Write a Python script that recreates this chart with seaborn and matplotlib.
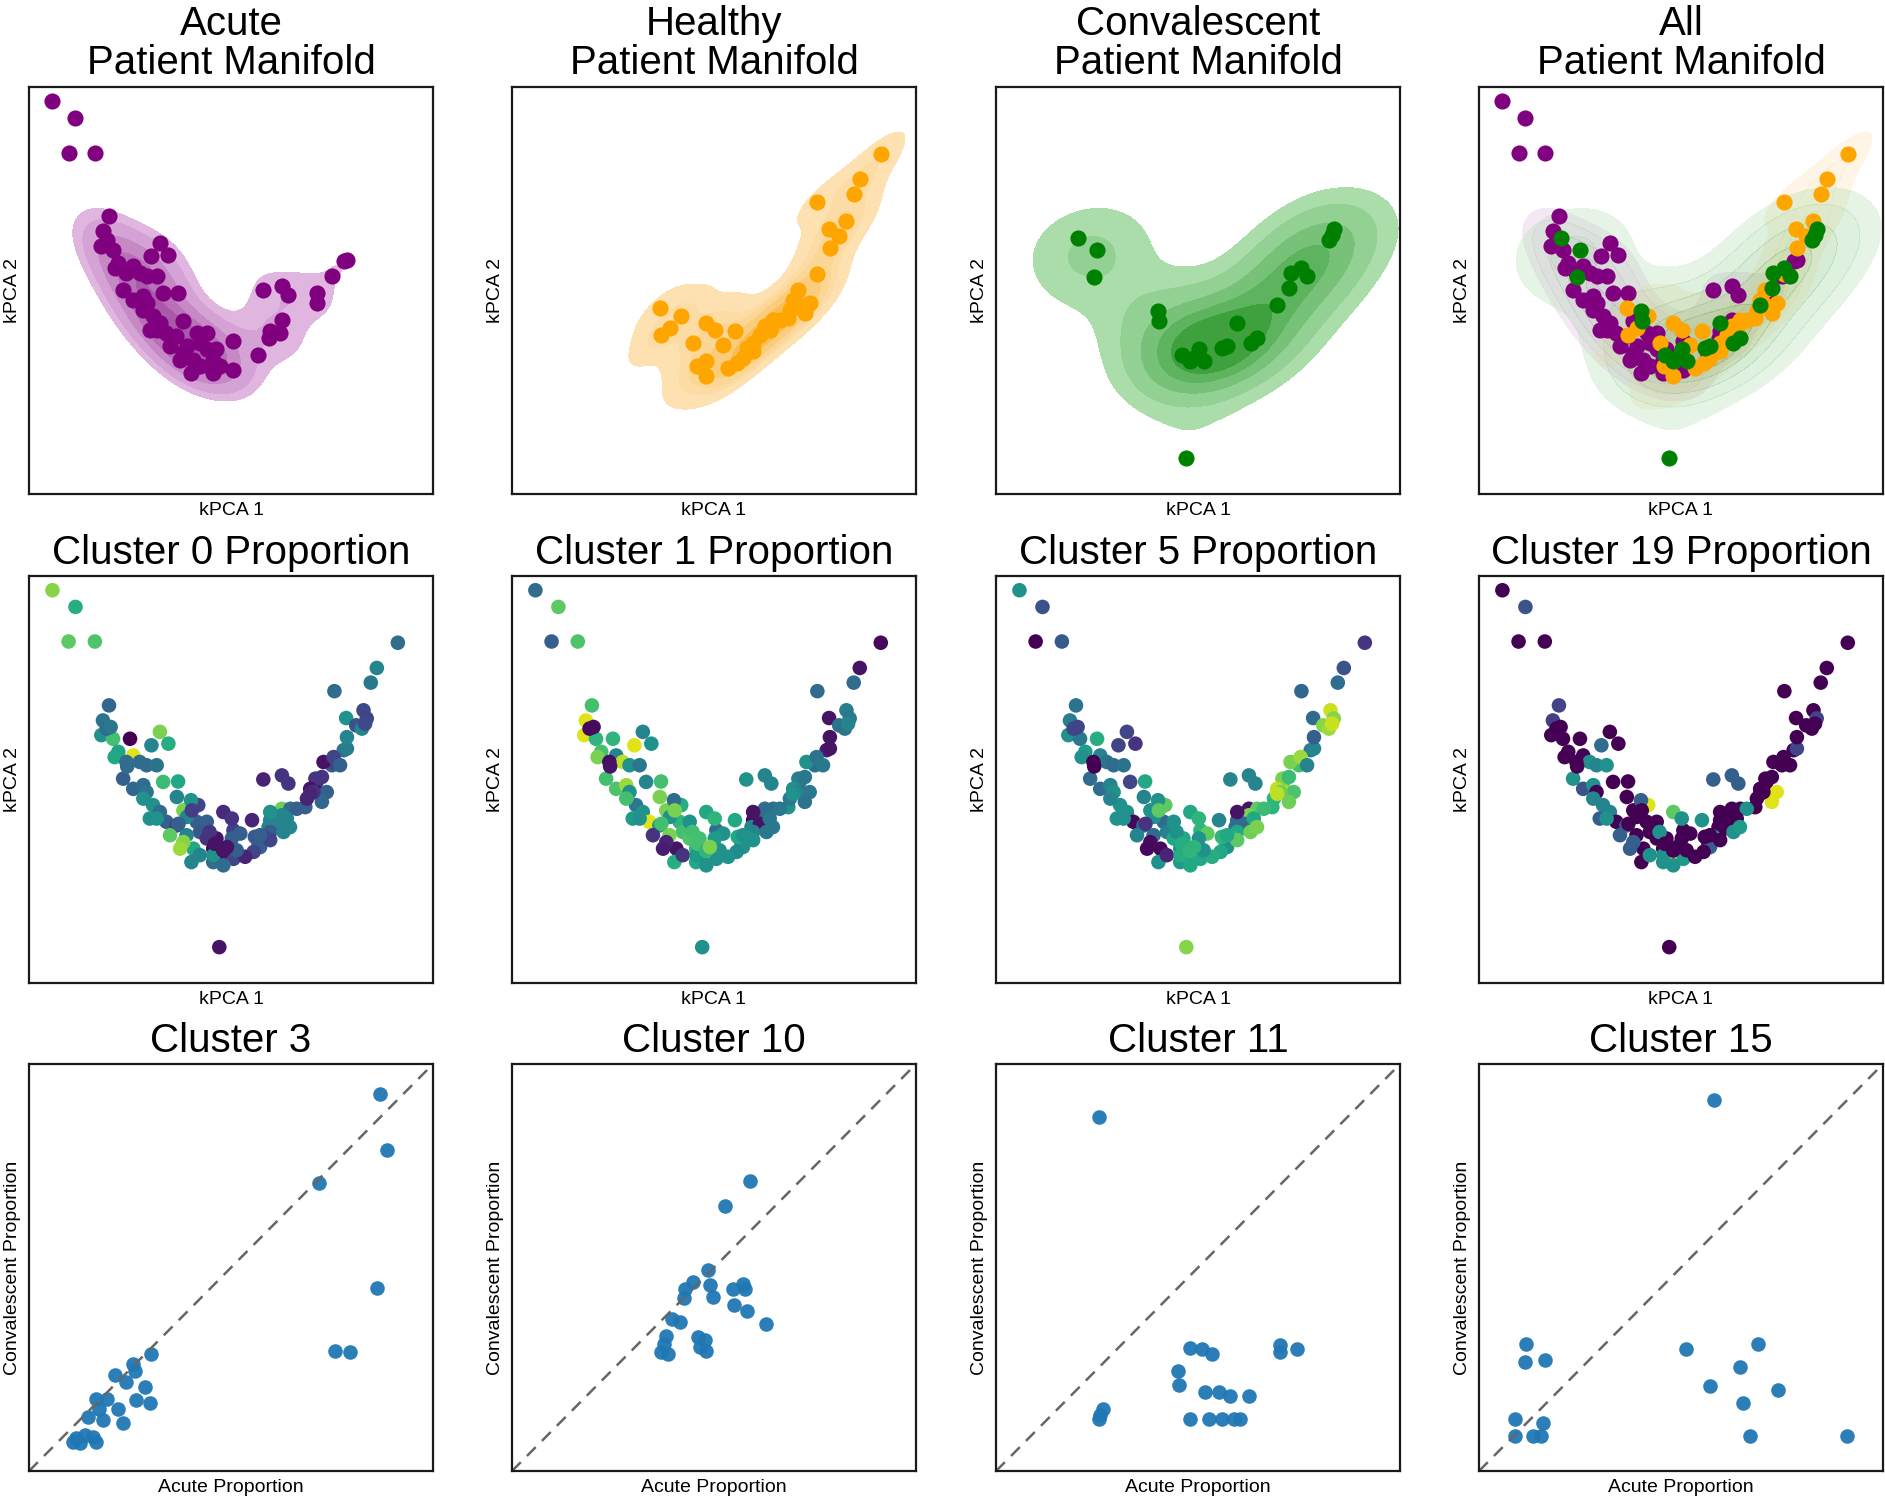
import matplotlib
matplotlib.use("Agg")
import matplotlib.pyplot as plt
from matplotlib.colors import LinearSegmentedColormap
import seaborn as sns
import pandas as pd

sns.set_style("white")
plt.rcParams["font.family"] = ["Liberation Sans", "DejaVu Sans"]
plt.rcParams["text.color"] = "black"
plt.rcParams["axes.labelcolor"] = "black"

# kPCA coordinates (arbitrary units)
acute_x = [5.8, 11.5, 9.8, 16.3, 19.8, 18.3, 17.9, 20.8, 22.1, 21.2,
           25.8, 27.4, 29.1, 31.6, 32.4, 34.5, 30.3, 23.3, 25.8, 28.3,
           29.1, 33.2, 36.9, 30.7, 32.4, 29.9, 38.2, 34.0, 36.5, 41.5,
           42.3, 39.0, 44.0, 46.4, 45.6, 40.7, 38.2, 40.2, 45.6, 50.6,
           50.6, 56.8, 58.0, 62.6, 64.2, 62.6, 59.7, 59.3, 62.1, 71.2,
           71.2, 75.0, 77.9, 78.7, 28.3, 31.6, 34.9, 44.0, 42.3, 47.3,
           37.4, 19.2, 24.1]
acute_y = [96.5, 92.4, 83.9, 83.9, 68.2, 64.5, 60.9, 60.0, 56.8, 55.5,
           55.9, 54.3, 53.5, 53.5, 61.7, 58.8, 58.4, 50.2, 47.7, 48.6,
           46.9, 49.4, 49.5, 43.7, 42.0, 40.4, 42.4, 39.6, 38.7, 39.6,
           37.1, 36.3, 35.5, 35.5, 33.0, 33.0, 34.6, 29.7, 29.7, 30.5,
           37.5, 34.2, 50.0, 51.0, 49.0, 42.8, 40.0, 38.3, 39.6, 49.4,
           46.9, 53.5, 57.2, 57.6, 45.3, 40.4, 36.3, 39.6, 31.4, 31.4,
           33.0, 62.5, 54.3]

healthy_x = [91.3, 86.1, 84.6, 75.6, 82.8, 78.5, 81.0, 78.7, 75.4, 70.9,
             69.6, 73.7, 72.5, 68.4, 64.7, 62.6, 61.4, 59.7, 58.1, 57.2,
             55.6, 53.5, 55.2, 52.3, 48.1, 50.2, 44.7, 36.6, 41.9, 39.1,
             37.0, 45.7, 48.1, 48.1, 59.7, 66.3, 63.8, 70.4, 68.8]
healthy_y = [83.6, 77.4, 73.8, 71.7, 67.0, 65.1, 63.3, 60.4, 54.1, 50.2,
             47.7, 46.9, 44.5, 43.2, 42.8, 41.2, 39.1, 37.1, 35.9, 33.4,
             32.2, 31.0, 40.0, 36.7, 42.0, 40.4, 37.1, 45.7, 43.7, 40.8,
             39.1, 31.4, 32.6, 28.9, 35.1, 42.8, 40.4, 46.9, 45.3]

conv_x = [20.2, 25.0, 24.3, 40.1, 40.3, 47.1, 46.0, 48.1, 50.2, 51.4,
          55.9, 59.7, 63.0, 64.6, 69.6, 72.5, 72.9, 75.4, 77.0, 82.4,
          83.6, 83.2, 57.2, 49.0]
conv_y = [62.9, 60.0, 53.2, 44.9, 42.4, 8.8, 34.2, 32.6, 35.5, 32.6,
          35.9, 42.0, 37.1, 38.3, 46.5, 50.6, 54.3, 55.5, 53.5, 62.5,
          65.0, 63.7, 36.3, 33.4]

# cluster proportions per sample (same order as the coordinates above)
acute_c0 = [0.82, 0.62, 0.75, 0.72, 0.33, 0.38, 0.5, 0.7, 0.58, 0.6,
            0.95, 0.35, 0.35, 0.38, 0.8, 0.62, 0.45, 0.3, 0.33, 0.35,
            0.38, 0.68, 0.6, 0.5, 0.35, 0.5, 0.8, 0.3, 0.2, 0.3,
            0.28, 0.45, 0.15, 0.05, 0.02, 0.6, 0.82, 0.45, 0.35, 0.2,
            0.18, 0.3, 0.1, 0.15, 0.15, 0.78, 0.45, 0.45, 0.5, 0.15,
            0.05, 0.3, 0.38, 0.42, 0.5, 0.5, 0.75, 0.3, 0.45, 0.05,
            0.85, 0.35, 0.35]
acute_c1 = [0.35, 0.75, 0.3, 0.72, 0.7, 0.95, 0.95, 0.65, 0.7, 0.8,
            0.45, 0.9, 0.5, 0.4, 0.45, 0.5, 0.95, 0.7, 0.72, 0.85,
            0.5, 0.45, 0.7, 0.4, 0.5, 0.55, 0.8, 0.95, 0.5, 0.65,
            0.7, 0.8, 0.72, 0.7, 0.65, 0.05, 0.1, 0.62, 0.6, 0.5,
            0.35, 0.5, 0.5, 0.45, 0.45, 0.35, 0.02, 0.45, 0.4, 0.4,
            0.38, 0.38, 0.08, 0.05, 0.7, 0.5, 0.15, 0.5, 0.15, 0.62,
            0.08, 0.02, 0.03]
acute_c5 = [0.5, 0.25, 0.0, 0.28, 0.38, 0.42, 0.5, 0.4, 0.55, 0.5,
            0.45, 0.38, 0.35, 0.38, 0.2, 0.15, 0.2, 0.35, 0.35, 0.45,
            0.5, 0.2, 0.6, 0.5, 0.5, 0.5, 0.5, 0.02, 0.35, 0.35,
            0.45, 0.35, 0.6, 0.6, 0.5, 0.02, 0.03, 0.5, 0.55, 0.6,
            0.65, 0.75, 0.45, 0.45, 0.45, 0.05, 0.35, 0.35, 0.6, 0.78,
            0.9, 0.7, 0.4, 0.45, 0.45, 0.5, 0.45, 0.5, 0.1, 0.6,
            0.02, 0.2, 0.0]
acute_c19 = [0.0, 0.25, 0.0, 0.0, 0.2, 0.18, 0.0, 0.0, 0.0, 0.0,
             0.0, 0.5, 0.45, 0.5, 0.0, 0.0, 0.35, 0.5, 0.25, 0.5,
             0.0, 0.0, 0.0, 0.45, 0.45, 0.3, 0.0, 0.0, 0.3, 0.0,
             0.0, 0.0, 0.0, 0.0, 0.0, 0.0, 0.3, 0.0, 0.5, 0.55,
             0.0, 0.0, 0.3, 0.3, 0.3, 0.0, 0.0, 0.0, 0.0, 0.0,
             0.0, 0.0, 0.0, 0.2, 0.45, 0.5, 0.3, 0.0, 0.5, 0.9,
             0.3, 0.0, 0.0]

healthy_c0 = [0.35, 0.45, 0.4, 0.35, 0.22, 0.5, 0.25, 0.45, 0.2, 0.15,
              0.05, 0.3, 0.33, 0.3, 0.35, 0.45, 0.45, 0.3, 0.2, 0.3,
              0.2, 0.1, 0.1, 0.3, 0.12, 0.15, 0.15, 0.45, 0.2, 0.45,
              0.3, 0.5, 0.02, 0.35, 0.2, 0.3, 0.45, 0.15, 0.1]
healthy_c1 = [0.02, 0.05, 0.35, 0.35, 0.42, 0.05, 0.38, 0.05, 0.35, 0.42,
              0.5, 0.4, 0.38, 0.5, 0.35, 0.35, 0.05, 0.45, 0.5, 0.5,
              0.48, 0.5, 0.6, 0.5, 0.6, 0.65, 0.7, 0.8, 0.62, 0.5,
              0.7, 0.55, 0.85, 0.5, 0.5, 0.4, 0.4, 0.45, 0.4]
healthy_c5 = [0.15, 0.25, 0.35, 0.33, 0.92, 0.35, 0.82, 0.3, 0.7, 0.8,
              0.9, 0.72, 0.78, 0.65, 0.75, 0.8, 0.35, 0.6, 0.65, 0.5,
              0.6, 0.62, 0.45, 0.75, 0.6, 0.65, 0.5, 0.45, 0.75, 0.5,
              0.15, 0.62, 0.75, 0.6, 0.75, 0.68, 0.6, 0.78, 0.65]
healthy_c19 = [0.0, 0.0, 0.0, 0.0, 0.0, 0.0, 0.0, 0.0, 0.0, 0.0,
               0.0, 0.95, 0.95, 0.0, 0.0, 0.0, 0.0, 0.0, 0.55, 0.3,
               0.0, 0.0, 0.5, 0.0, 0.75, 0.5, 0.5, 0.0, 0.95, 0.0,
               0.0, 0.5, 0.0, 0.5, 0.0, 0.5, 0.0, 0.0, 0.0]

conv_c0 = [0.4, 0.0, 0.35, 0.5, 0.18, 0.05, 0.05, 0.05, 0.3, 0.3,
           0.28, 0.5, 0.45, 0.45, 0.1, 0.15, 0.05, 0.2, 0.3, 0.45,
           0.2, 0.22, 0.3, 0.05]
conv_c1 = [0.03, 0.65, 0.05, 0.35, 0.8, 0.5, 0.7, 0.65, 0.55, 0.5,
           0.6, 0.05, 0.4, 0.4, 0.5, 0.4, 0.5, 0.38, 0.4, 0.38,
           0.4, 0.45, 0.5, 0.8]
conv_c5 = [0.2, 0.62, 0.0, 0.5, 0.75, 0.82, 0.62, 0.65, 0.5, 0.5,
           0.65, 0.05, 0.78, 0.8, 0.9, 0.68, 0.8, 0.85, 0.45, 0.85,
           0.82, 0.92, 0.6, 0.65]
conv_c19 = [0.0, 0.0, 0.0, 0.3, 0.0, 0.0, 0.0, 0.0, 0.0, 0.0,
            0.0, 0.0, 0.5, 0.55, 0.0, 0.0, 0.0, 0.0, 0.0, 0.0,
            0.2, 0.0, 0.0, 0.0]

# acute vs convalescent proportions for selected clusters
c3_acute = [0.869, 0.886, 0.717, 0.861, 0.758, 0.795, 0.303, 0.258, 0.262,
            0.212, 0.241, 0.286, 0.167, 0.192, 0.266, 0.299, 0.221, 0.174,
            0.146, 0.233, 0.183, 0.117, 0.138, 0.159, 0.167, 0.126, 0.109]
c3_conv = [0.927, 0.790, 0.709, 0.451, 0.296, 0.292, 0.288, 0.264, 0.247,
           0.235, 0.219, 0.207, 0.178, 0.178, 0.174, 0.166, 0.153, 0.153,
           0.133, 0.117, 0.125, 0.080, 0.088, 0.084, 0.072, 0.068, 0.072]
c10_acute = [0.590, 0.527, 0.486, 0.448, 0.428, 0.425, 0.490, 0.498, 0.547,
             0.572, 0.576, 0.549, 0.582, 0.630, 0.395, 0.415, 0.381, 0.377,
             0.370, 0.386, 0.461, 0.477, 0.465, 0.480]
c10_conv = [0.713, 0.651, 0.494, 0.464, 0.447, 0.425, 0.456, 0.427, 0.447,
            0.460, 0.447, 0.407, 0.394, 0.362, 0.374, 0.366, 0.333, 0.313,
            0.292, 0.288, 0.329, 0.321, 0.304, 0.295]
c11_acute = [0.256, 0.481, 0.510, 0.535, 0.704, 0.704, 0.745, 0.450, 0.452,
             0.518, 0.551, 0.579, 0.626, 0.266, 0.258, 0.256, 0.481, 0.526,
             0.560, 0.588, 0.605]
c11_conv = [0.869, 0.302, 0.300, 0.287, 0.309, 0.292, 0.300, 0.246, 0.211,
            0.194, 0.194, 0.184, 0.184, 0.153, 0.137, 0.127, 0.129, 0.129,
            0.129, 0.129, 0.129]
c15_acute = [0.581, 0.116, 0.512, 0.691, 0.113, 0.163, 0.645, 0.573, 0.740,
             0.653, 0.088, 0.158, 0.088, 0.134, 0.154, 0.670, 0.912]
c15_conv = [0.913, 0.311, 0.300, 0.313, 0.269, 0.272, 0.256, 0.208, 0.198,
            0.168, 0.127, 0.119, 0.086, 0.086, 0.086, 0.086, 0.086]

groups = ["Acute", "Healthy", "Convalescent"]
group_colors = {"Acute": "purple", "Healthy": "orange", "Convalescent": "green"}
kde_cmaps = {
    "Acute": LinearSegmentedColormap.from_list("a", ["#e4bde4", "#a24aa2"]),
    "Healthy": LinearSegmentedColormap.from_list("h", ["#fde4b8", "#f9b745"]),
    "Convalescent": LinearSegmentedColormap.from_list("c", ["#b4e2b4", "#2a962a"]),
}
kde_bw = {"Acute": 0.8, "Healthy": 0.75, "Convalescent": 1.0}
kde_thresh = {"Acute": 0.25, "Healthy": 0.08, "Convalescent": 0.15}

acute = pd.DataFrame({"x": acute_x, "y": acute_y, "c0": acute_c0, "c1": acute_c1,
                      "c5": acute_c5, "c19": acute_c19, "group": "Acute"})
healthy = pd.DataFrame({"x": healthy_x, "y": healthy_y, "c0": healthy_c0, "c1": healthy_c1,
                        "c5": healthy_c5, "c19": healthy_c19, "group": "Healthy"})
conv = pd.DataFrame({"x": conv_x, "y": conv_y, "c0": conv_c0, "c1": conv_c1,
                     "c5": conv_c5, "c19": conv_c19, "group": "Convalescent"})
frames = {"Acute": acute, "Healthy": healthy, "Convalescent": conv}
all_df = pd.concat([acute, healthy, conv], ignore_index=True)

fig = plt.figure(figsize=(18.85, 15), dpi=100)
lefts = [0.0154, 0.2716, 0.5284, 0.7846]
bottoms = [0.6707, 0.3447, 0.0193]
w, h = 0.2143, 0.2713


def style_axes(ax, title, xlabel, ylabel, linespacing=1.2):
    ax.set_xticks([])
    ax.set_yticks([])
    ax.set_title(title, fontsize=29, pad=9, linespacing=linespacing, color="black")
    ax.set_xlabel(xlabel, fontsize=14, labelpad=6)
    ax.set_ylabel(ylabel, fontsize=14, labelpad=6)
    for sp in ax.spines.values():
        sp.set_visible(True)
        sp.set_color("#1a1a1a")
        sp.set_linewidth(1.6)


def manifold_kde(ax, g, alpha=1.0):
    sns.kdeplot(data=frames[g], x="x", y="y", fill=True, cmap=kde_cmaps[g],
                levels=6, thresh=kde_thresh[g], bw_adjust=kde_bw[g], alpha=alpha, ax=ax)


# top row: patient manifolds
for i, name in enumerate(groups + ["All"]):
    ax = fig.add_axes([lefts[i], bottoms[0], w, h])
    if name == "All":
        for g in groups:
            manifold_kde(ax, g, alpha=0.3)
        for g in groups:
            sns.scatterplot(data=frames[g], x="x", y="y", color=group_colors[g],
                            s=135, linewidth=0, ax=ax)
    else:
        manifold_kde(ax, name)
        sns.scatterplot(data=frames[name], x="x", y="y", color=group_colors[name],
                        s=135, linewidth=0, ax=ax)
    ax.set_xlim(0, 100)
    ax.set_ylim(0, 100)
    style_axes(ax, name + "\nPatient Manifold", "kPCA 1", "kPCA 2", linespacing=1.05)

# middle row: cluster proportions on the manifold
for i, (col, num) in enumerate([("c0", 0), ("c1", 1), ("c5", 5), ("c19", 19)]):
    ax = fig.add_axes([lefts[i], bottoms[1], w, h])
    sns.scatterplot(data=all_df, x="x", y="y", hue=col, palette="viridis",
                    hue_norm=(0, 1), s=110, linewidth=0, legend=False, ax=ax)
    ax.set_xlim(0, 100)
    ax.set_ylim(0, 100)
    style_axes(ax, f"Cluster {num} Proportion", "kPCA 1", "kPCA 2")

# bottom row: acute vs convalescent proportion
pairs = [(3, c3_acute, c3_conv), (10, c10_acute, c10_conv),
         (11, c11_acute, c11_conv), (15, c15_acute, c15_conv)]
for i, (num, xa, yc) in enumerate(pairs):
    ax = fig.add_axes([lefts[i], bottoms[2], w, h])
    ax.plot([0, 1], [0, 1], linestyle="--", color="#666666", linewidth=1.8, dashes=(5, 3.5))
    sns.scatterplot(x=xa, y=yc, color="#1f77b4", s=110, linewidth=0, alpha=0.95, ax=ax)
    ax.set_xlim(0, 1)
    ax.set_ylim(0, 1)
    style_axes(ax, f"Cluster {num}", "Acute Proportion", "Convalescent Proportion")

fig.savefig("out.png", dpi=100)
